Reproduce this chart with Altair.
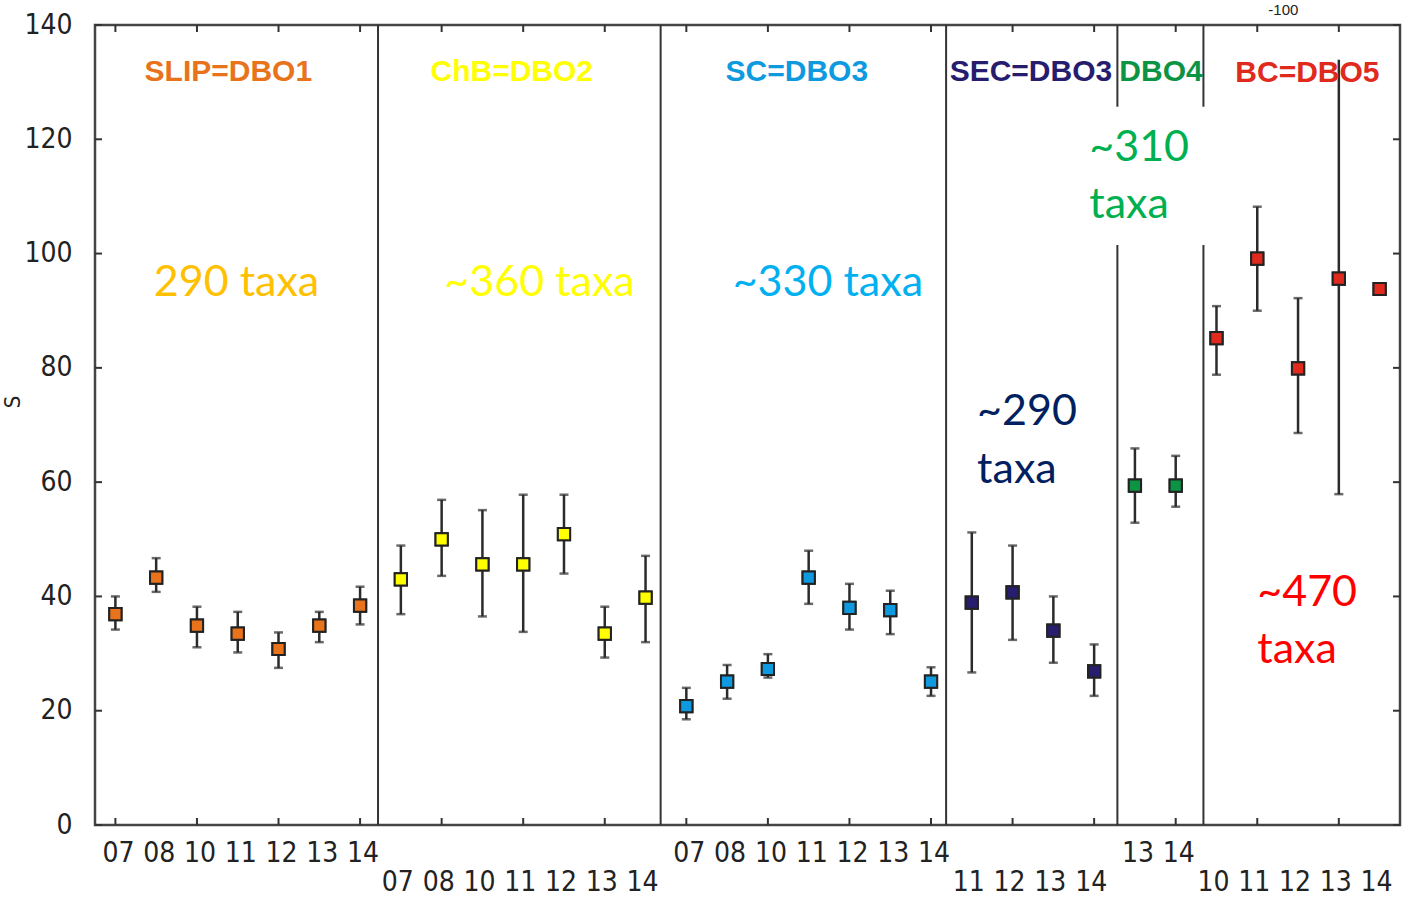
import altair as alt
import pandas as pd

# ---------------- data ----------------
segments = ["SLIP=DBO1", "ChB=DBO2", "SC=DBO3", "SEC=DBO3", "DBO4", "BC=DBO5"]
seg_colors = ["#E8731A", "#FFFF00", "#0F9ADF", "#261D6E", "#0C9444", "#E02A1E"]
seg_years = [
    ["07", "08", "10", "11", "12", "13", "14"],
    ["07", "08", "10", "11", "12", "13", "14"],
    ["07", "08", "10", "11", "12", "13", "14"],
    ["11", "12", "13", "14"],
    ["13", "14"],
    ["10", "11", "12", "13", "14"],
]
seg_label_row = [1, 2, 1, 2, 1, 2]

means = [36.9, 43.3, 34.9, 33.5, 30.8, 34.9, 38.4,
         43.0, 50.0, 45.6, 45.6, 50.9, 33.5, 39.8,
         20.8, 25.1, 27.3, 43.3, 38.0, 37.6, 25.1,
         38.9, 40.7, 34.0, 26.9,
         59.4, 59.4,
         85.2, 99.1, 79.9, 95.6, 93.8]
lows = [34.2, 40.8, 31.1, 30.2, 27.5, 32.0, 35.1,
        36.9, 43.6, 36.5, 33.8, 44.0, 29.3, 32.0,
        18.5, 22.1, 25.8, 38.7, 34.2, 33.4, 22.6,
        26.7, 32.4, 28.4, 22.6,
        52.9, 55.7,
        78.8, 90.0, 68.6, 57.9, 93.8]
highs = [40.0, 46.7, 38.2, 37.3, 33.7, 37.3, 41.7,
         48.9, 56.9, 55.1, 57.8, 57.8, 38.2, 47.1,
         24.0, 28.0, 29.9, 48.0, 42.2, 41.0, 27.6,
         51.2, 48.9, 40.0, 31.6,
         65.9, 64.6,
         90.8, 108.2, 92.2, 133.9, 93.8]
no_top_cap = [30]

# divider positions between station groups (x in point-index units) and vertical extents
div_x = [6.44, 13.37, 20.37, 24.57, 26.68, 24.57, 26.68]
div_lo = [0, 0, 0, 0, 0, 125.7, 125.7]
div_hi = [140, 140, 140, 101.5, 101.5, 140, 140]

y_ticks = [0, 20, 40, 60, 80, 100, 120, 140]
x_ticks = list(range(0, 31, 2))

# annotation texts
head_text = segments
head_x = [2.77, 9.72, 16.71, 22.45, 25.64, 29.23]
head_y = [131.8, 131.8, 131.8, 131.8, 131.8, 131.6]

note_text = ["290 taxa", "~360 taxa", "~330 taxa", "~290", "taxa", "~310", "taxa", "~470", "taxa"]
note_color = ["#FFC000", "#FFFF00", "#00B0F0", "#002060", "#002060", "#00B050", "#00B050", "#FF0000", "#FF0000"]
note_x = [2.97, 10.40, 17.47, 21.13, 21.13, 23.88, 23.88, 28.0, 28.0]
note_y = [94.9, 94.9, 94.9, 72.3, 62.1, 118.5, 108.5, 40.6, 30.6]
note_align = ["center", "center", "center", "left", "left", "left", "left", "left", "left"]

# ---------------- tables ----------------
rows = []
i = 0
for s, (name, col, yrs, r) in enumerate(zip(segments, seg_colors, seg_years, seg_label_row)):
    for yr in yrs:
        rows.append(dict(idx=i, seg=name, color=col, year=yr, row=r,
                         mean=means[i], lo=lows[i], hi=highs[i]))
        i += 1
pts = pd.DataFrame(rows)

caps = []
for _, r in pts.iterrows():
    if r["lo"] < r["mean"]:
        caps.append(dict(idx=r["idx"], v=r["lo"]))
    if r["hi"] > r["mean"] and r["idx"] not in no_top_cap:
        caps.append(dict(idx=r["idx"], v=r["hi"]))
caps = pd.DataFrame(caps)

divs = pd.DataFrame(dict(x=div_x, lo=div_lo, hi=div_hi))
yt = pd.DataFrame(dict(v=y_ticks))
xt = pd.DataFrame(dict(i=x_ticks))
heads = pd.DataFrame(dict(t=head_text, x=head_x, y=head_y, color=seg_colors))
notes = pd.DataFrame(dict(t=note_text, x=note_x, y=note_y, color=note_color, align=note_align))

W, H = 1305, 800
XS = alt.Scale(domain=[-0.5, 31.5], nice=False, zero=False)
YS = alt.Scale(domain=[0, 140], nice=False, zero=False)
NARROW = "Liberation Sans Narrow, DejaVu Sans Condensed, Arial Narrow, sans-serif"

YAX = alt.Axis(values=y_ticks, ticks=False, domain=False, grid=False, title=None,
               labelFont=NARROW, labelFontSize=28, labelColor="#222222", labelPadding=23)


def X(f):
    return alt.X(f, type="quantitative", scale=XS, axis=None)


def Y(f):
    return alt.Y(f, type="quantitative", scale=YS, axis=YAX)


dividers = alt.Chart(divs).mark_rule(color="#333333", strokeWidth=2).encode(
    x=X("x"), y=Y("lo"), y2="hi")

ytick_l = alt.Chart(yt).mark_rule(color="#333333", strokeWidth=2).encode(
    y=Y("v"), x=alt.value(0), x2=alt.value(7))
ytick_r = alt.Chart(yt).mark_rule(color="#333333", strokeWidth=2).encode(
    y=Y("v"), x=alt.value(W - 7), x2=alt.value(W))
xtick_b = alt.Chart(xt).mark_rule(color="#333333", strokeWidth=2).encode(
    x=X("i"), y=alt.value(H - 7), y2=alt.value(H))
xtick_t = alt.Chart(xt).mark_rule(color="#333333", strokeWidth=2).encode(
    x=X("i"), y=alt.value(0), y2=alt.value(7))

bars = alt.Chart(pts).mark_rule(color="#2b2b2b", strokeWidth=2.5).encode(
    x=X("idx"), y=Y("lo"), y2="hi")
capm = alt.Chart(caps).mark_tick(color="#2b2b2b", orient="horizontal", size=9, thickness=2.5).encode(
    x=X("idx"), y=Y("v"))
squares = alt.Chart(pts).mark_square(size=150, stroke="#222222", strokeWidth=2, opacity=1).encode(
    x=X("idx"), y=Y("mean"),
    fill=alt.Fill("color:N", scale=None))

xlab1 = alt.Chart(pts).transform_filter("datum.row == 1").mark_text(
    font=NARROW, fontSize=28, color="#222222", baseline="middle", align="center", dx=3).encode(
    x=X("idx"), y=alt.value(829), text="year:N")
xlab2 = alt.Chart(pts).transform_filter("datum.row == 2").mark_text(
    font=NARROW, fontSize=28, color="#222222", baseline="middle", align="center", dx=-3).encode(
    x=X("idx"), y=alt.value(858), text="year:N")

headm = alt.Chart(heads).mark_text(font="Liberation Sans, Arial, sans-serif", fontSize=30,
                                    fontWeight="bold", baseline="middle", align="center").encode(
    x=X("x"), y=Y("y"), text="t:N", color=alt.Color("color:N", scale=None))

note_c = alt.Chart(notes).transform_filter("datum.align == 'center'").mark_text(
    font="Lato, Open Sans, sans-serif", fontSize=43, baseline="middle", align="center").encode(
    x=X("x"), y=Y("y"), text="t:N", color=alt.Color("color:N", scale=None))
note_l = alt.Chart(notes).transform_filter("datum.align == 'left'").mark_text(
    font="Lato, Open Sans, sans-serif", fontSize=43, baseline="middle", align="left").encode(
    x=X("x"), y=Y("y"), text="t:N", color=alt.Color("color:N", scale=None))

stray = alt.Chart(pd.DataFrame(dict(t=["-100"], x=[28.64]))).mark_text(
    font="Liberation Sans, Arial, sans-serif", fontSize=15, color="#222222",
    baseline="middle", align="center").encode(
    x=X("x"), y=alt.value(-15), text="t:N")

ytitle = alt.Chart(pd.DataFrame(dict(t=["S"]))).mark_text(
    font=NARROW, fontSize=22, color="#222222", angle=270, baseline="middle", align="center").encode(
    x=alt.value(-82), y=alt.value(377), text="t:N")

# squares listed first so the y axis is taken from them, and again later so they sit on top
chart = alt.layer(
    squares, dividers, ytick_l, ytick_r, xtick_b, xtick_t, bars, capm, squares,
    xlab1, xlab2, headm, note_c, note_l, stray, ytitle
).properties(
    width=W, height=H,
    autosize=alt.AutoSizeParams(type="none"),
    padding={"left": 95, "top": 25, "right": 13, "bottom": 75},
    background="white",
).configure_view(stroke="#444444", strokeWidth=2.5)

chart.save("out.html", embed_options={"renderer": "svg", "actions": False})
